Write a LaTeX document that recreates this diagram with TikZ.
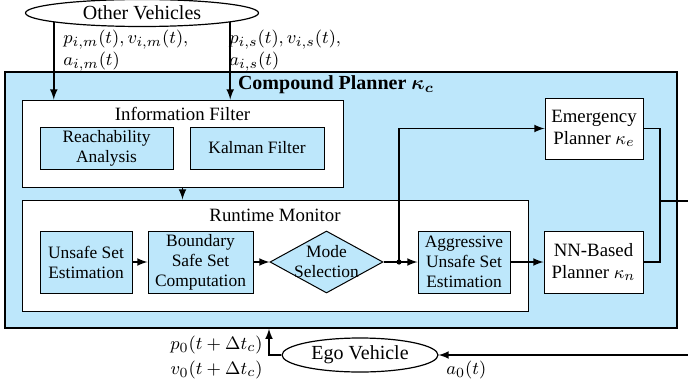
\documentclass[tikz,border=0pt]{standalone}
\usepackage{fontspec}
\setmainfont{Liberation Serif}
\usetikzlibrary{shapes,arrows,positioning}
\definecolor{panelblue}{RGB}{189,231,251}

\begin{document}
\begin{tikzpicture}[x=0.5pt, y=-0.5pt,
    box/.style={rectangle, draw, line width=0.5pt, fill=panelblue, align=center, inner sep=0pt, minimum height=31pt, font=\fontsize{8.7}{10}\selectfont},
    whitebox/.style={box, fill=white, font=\fontsize{9.4}{11}\selectfont},
    frame/.style={rectangle, draw, line width=0.5pt, fill=white, inner sep=0pt},
    vehicle/.style={ellipse, draw, line width=0.6pt, fill=white, inner sep=0pt, font=\fontsize{10}{12}\selectfont},
    heading/.style={inner sep=0pt, font=\fontsize{9.4}{11}\selectfont},
    arrow/.style={->, >=latex, line width=0.75pt},
    wire/.style={line width=0.75pt},
    signal/.style={inner sep=0pt, align=left, font=\fontsize{9.5}{11}\selectfont}
]
\useasboundingbox (0,0) rectangle (688,390);

% Planner housing
\node[rectangle, draw, line width=0.8pt, fill=panelblue, minimum width=336pt, minimum height=128pt, inner sep=0pt] (comp) at (341,200) {};
\node[inner sep=0pt, font=\fontsize{10}{12}\selectfont\bfseries\boldmath] (title) at (336,85) {Compound Planner $\kappa_c$};

% Surrounding traffic
\node[vehicle, minimum width=116.5pt, minimum height=13.5pt] (other) at (142,13) {Other Vehicles};

% Information filter
\node[frame, minimum width=160.5pt, minimum height=43.5pt] (info) at (182.5,143.5) {};
\node[heading] (infotitle) at (182.5,114) {Information Filter};
\node[box, minimum width=66.5pt, minimum height=21pt] (reach) at (106.5,148) {Reachability\\Analysis};
\node[box, minimum width=67pt, minimum height=21pt] (kalman) at (257,148) {Kalman Filter};

% Runtime monitor
\node[frame, minimum width=253pt, minimum height=55.5pt] (monitor) at (275,255.5) {};
\node[heading] (montitle) at (275,215) {Runtime Monitor};
\node[box, minimum width=46pt] (unsafe) at (86,262) {Unsafe Set\\Estimation};
\node[box, minimum width=52.5pt] (boundary) at (200.5,262) {Boundary\\Safe Set\\Computation};
\node[box, diamond, minimum width=56.5pt, minimum height=31pt,
      label={[align=center, font=\fontsize{8.7}{10}\selectfont]center:Mode\\Selection}] (mode) at (326.5,262) {};
\coordinate (junc) at (399,262);
\node[box, minimum width=46pt] (aggr) at (464,262) {Aggressive\\Unsafe Set\\Estimation};

% Planners
\node[whitebox, minimum width=49.5pt] (nn) at (593.5,262) {NN-Based\\Planner $\kappa_n$};
\node[whitebox, minimum width=49pt, minimum height=30.5pt] (emerg) at (594,128.5) {Emergency\\Planner $\kappa_e$};

% Ego vehicle
\node[vehicle, minimum width=78pt, minimum height=17pt] (ego) at (360,355) {Ego Vehicle};

% Connections
\draw[arrow] (other.186.7) -- (other.186.7 |- info.north);
\draw[arrow] (other.-6.7) -- (other.-6.7 |- info.north);
\draw[arrow] (info.south) -- (info.south |- monitor.north);
\draw[arrow] (unsafe) -- (boundary);
\draw[arrow] (boundary) -- (mode);
\draw[wire] (mode.east) -- (junc);
\draw[arrow] (junc) -- (aggr);
\draw[arrow] (junc) |- (emerg.west);
\fill (junc) circle (1.3pt);
\draw[arrow] (aggr) -- (nn);

\coordinate (merge) at (660,201);
\coordinate (loopTop) at (700,201);
\coordinate (loopBot) at (700,355);
\draw[wire] (emerg.east) -| (merge);
\draw[wire] (nn.east) -| (merge);
\draw[arrow] (merge) -- (loopTop) -- (loopBot) -- (ego.east);

\coordinate (bend) at (269,355);
\draw[arrow] (ego.west) -- (bend) -- (bend |- comp.south);

% Signal labels
\node[signal, anchor=north west] (mlab) at (63,30) {$p_{i,m}(t), v_{i,m}(t),$\\$a_{i,m}(t)$};
\node[signal, anchor=north west] (slab) at (229,30) {$p_{i,s}(t), v_{i,s}(t),$\\$a_{i,s}(t)$};
\node[signal, anchor=north east, align=right, font=\fontsize{9.5}{12.5}\selectfont] (plab) at (263,336) {$p_0(t+\Delta t_c)$\\$v_0(t+\Delta t_c)$};
\node[signal, anchor=north west] (alab) at (446,361) {$a_0(t)$};

\end{tikzpicture}
\end{document}
